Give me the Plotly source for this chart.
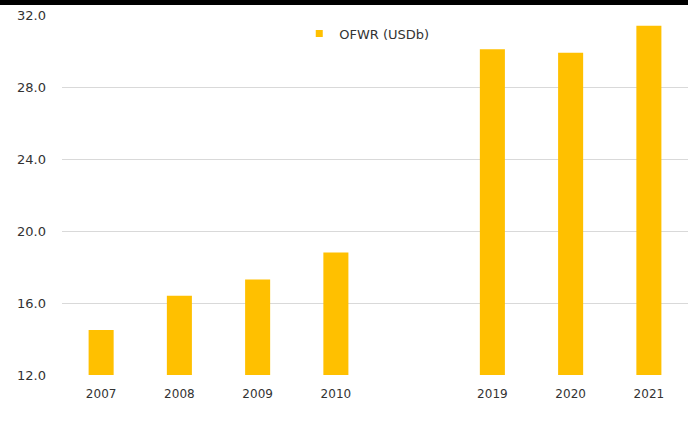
import plotly.graph_objects as go

# Remittance inflows by year; the blank slot separates the two periods
years = ["2007", "2008", "2009", "2010", " ", "2019", "2020", "2021"]
ofwr_usdb = [14.5, 16.4, 17.3, 18.8, None, 30.1, 29.9, 31.4]
y_ticks = [12, 16, 20, 24, 28, 32]
series_name = "OFWR (USDb)"

BAR_COLOR = "#FFC000"
TEXT_COLOR = "#333333"
GRID_COLOR = "#d9d9d9"
FONT = "DejaVu Sans"

fig = go.Figure()

fig.add_trace(go.Bar(
    x=years,
    y=ofwr_usdb,
    marker=dict(color=BAR_COLOR, line=dict(width=0)),
    showlegend=False,
    hoverinfo="x+y",
))

# Legend entry with a small square swatch
fig.add_trace(go.Scatter(
    x=[None], y=[None],
    mode="markers",
    marker=dict(symbol="square", size=7, color=BAR_COLOR),
    name=series_name,
    showlegend=True,
))

fig.update_layout(
    width=688,
    height=425,
    margin=dict(l=62, r=0, t=15, b=50),
    paper_bgcolor="white",
    plot_bgcolor="white",
    bargap=0.68,
    font=dict(family=FONT, size=12, color=TEXT_COLOR),
    legend=dict(
        x=0.379, y=0.99, xanchor="left", yanchor="top",
        bgcolor="rgba(0,0,0,0)",
        font=dict(family=FONT, size=13, color=TEXT_COLOR),
    ),
    shapes=[dict(
        type="rect", xref="paper", yref="paper",
        x0=-0.2, x1=1.2, y0=1 + 10 / 360, y1=1.2,
        fillcolor="black", line=dict(width=0), layer="above",
    )],
)

fig.update_xaxes(
    type="category",
    categoryorder="array",
    categoryarray=years,
    tickvals=[y for y in years if y.strip()],
    showgrid=False,
    showline=False,
    zeroline=False,
    ticks="",
    ticklabelstandoff=10,
    tickfont=dict(family=FONT, size=12, color=TEXT_COLOR),
    fixedrange=True,
)

fig.update_yaxes(
    range=[12, 32],
    tickvals=y_ticks,
    tickformat=".1f",
    showgrid=True,
    gridcolor=GRID_COLOR,
    gridwidth=1,
    showline=False,
    zeroline=False,
    ticks="",
    ticklabelstandoff=15,
    tickfont=dict(family=FONT, size=13, color=TEXT_COLOR),
    fixedrange=True,
)

fig.write_html("out.html")
